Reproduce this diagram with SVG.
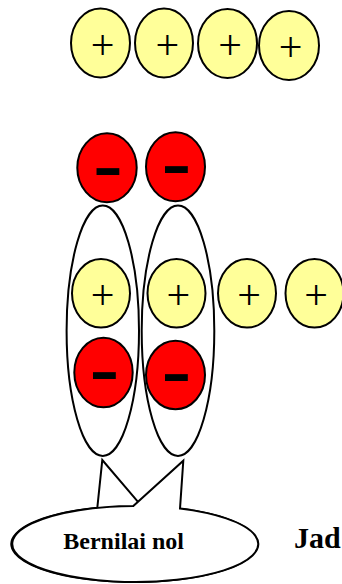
<svg xmlns="http://www.w3.org/2000/svg" width="342" height="584" viewBox="0 0 342 584">
  <style>
    .pos { fill: #FFFF99; stroke: #000; stroke-width: 2; }
    .neg { fill: #FF0000; stroke: #000; stroke-width: 2; }
    .pair { fill: none; stroke: #000; stroke-width: 2; }
    .call { fill: #fff; stroke: #000; stroke-width: 2; stroke-linejoin: miter; }
    .plus { font-family: "Liberation Serif", "Times New Roman", serif; font-size: 42px; text-anchor: middle; fill: #000; }
    .minus { font-family: "Liberation Sans", Arial, sans-serif; font-weight: bold; font-size: 58px; text-anchor: middle; fill: #000; }
    .label { font-family: "Liberation Serif", "Times New Roman", serif; font-weight: bold; fill: #000; }
  </style>
  <rect width="342" height="584" fill="#fff"/>

  <!-- top row of positive charges -->
  <g id="pos-top-1"><ellipse class="pos" cx="100.5" cy="43" rx="29.5" ry="34.5"/><text class="plus" x="102.7" y="58.8">+</text></g>
  <g id="pos-top-2"><ellipse class="pos" cx="164" cy="43" rx="29" ry="34.5"/><text class="plus" x="167.3" y="58.6">+</text></g>
  <g id="pos-top-3"><ellipse class="pos" cx="227.5" cy="43.5" rx="29.5" ry="34.5"/><text class="plus" x="230" y="58.6">+</text></g>
  <g id="pos-top-4"><ellipse class="pos" cx="289" cy="45.5" rx="30" ry="34.5"/><text class="plus" x="290.7" y="60.6">+</text></g>

  <!-- negative charges above the pairs -->
  <g id="neg-top-1"><ellipse class="neg" cx="107" cy="167.8" rx="29.7" ry="34.5"/><g transform="translate(108,171.2) scale(1.55,1)"><text class="minus" x="0" y="15.3">-</text></g></g>
  <g id="neg-top-2"><ellipse class="neg" cx="175.5" cy="166.8" rx="29.5" ry="34.5"/><g transform="translate(176.5,170) scale(1.55,1)"><text class="minus" x="0" y="15.3">-</text></g></g>

  <!-- enclosing outlines of the neutral pairs -->
  <g id="pair-1"><ellipse class="pair" cx="102.8" cy="330.8" rx="36.2" ry="125.2"/></g>
  <g id="pair-2"><ellipse class="pair" cx="178" cy="330.8" rx="36.3" ry="125.2"/></g>

  <!-- middle row of positive charges -->
  <g id="pos-mid-1"><ellipse class="pos" cx="101" cy="293.3" rx="29" ry="34.3"/><text class="plus" x="102.7" y="308.8">+</text></g>
  <g id="pos-mid-2"><ellipse class="pos" cx="176.5" cy="293.3" rx="29" ry="34.3"/><text class="plus" x="178.3" y="308.8">+</text></g>
  <g id="pos-mid-3"><ellipse class="pos" cx="247" cy="293.3" rx="29" ry="34.3"/><text class="plus" x="249" y="308.6">+</text></g>
  <g id="pos-mid-4"><ellipse class="pos" cx="314.5" cy="293.3" rx="29" ry="34.3"/><text class="plus" x="316" y="308.6">+</text></g>

  <!-- negative charges inside the pairs -->
  <g id="neg-bot-1"><ellipse class="neg" cx="103.5" cy="372.5" rx="29.2" ry="34.8"/><g transform="translate(104.5,375.3) scale(1.55,1)"><text class="minus" x="0" y="15.3">-</text></g></g>
  <g id="neg-bot-2"><ellipse class="neg" cx="175.5" cy="375" rx="29.5" ry="34.3"/><g transform="translate(176.5,378) scale(1.55,1)"><text class="minus" x="0" y="15.3">-</text></g></g>

  <!-- callout with two pointers -->
  <g id="callout">
    <path class="call" d="M141.6,506.1 A123,38 0 1 1 97.3,507.8 L102.3,460 Z"/>
    <path class="call" d="M180,508.6 A123,38 0 1 1 133.3,506 L183.3,460.7 Z"/>
    <text class="label" x="63.3" y="549.3" font-size="24">Bernilai nol</text>
  </g>

  <g id="caption">
    <text class="label" x="294" y="548" font-size="30">Jad</text>
  </g>
</svg>
